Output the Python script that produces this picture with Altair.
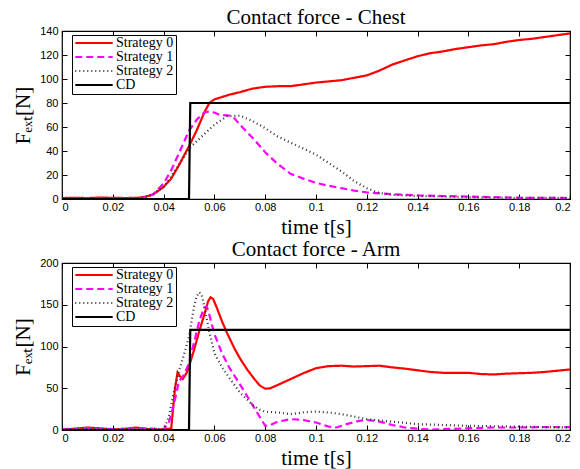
import altair as alt
import pandas as pd

series_names = ["Strategy 0", "Strategy 1", "Strategy 2", "CD"]
series_colors = ["#ff0000", "#ff00ff", "#333333", "#000000"]
series_dash = [[1, 0], [7, 4], [1, 3], [1, 0]]
series_width = [2.2, 2.2, 1.2, 2.2]

x_ticks = [0, 0.02, 0.04, 0.06, 0.08, 0.1, 0.12, 0.14, 0.16, 0.18, 0.2]
chest_y_ticks = [0, 20, 40, 60, 80, 100, 120, 140]
arm_y_ticks = [0, 50, 100, 150, 200]

# ---- Chest ----
chest_t0 = [0, 0.005, 0.01, 0.015, 0.02, 0.025, 0.03, 0.033, 0.036, 0.04, 0.043, 0.046, 0.05, 0.053,
            0.056, 0.058, 0.06, 0.063, 0.066, 0.07, 0.075, 0.08, 0.085, 0.09, 0.095, 0.1, 0.105, 0.11,
            0.115, 0.12, 0.125, 0.13, 0.135, 0.14, 0.145, 0.15, 0.155, 0.16, 0.165, 0.17, 0.175, 0.18,
            0.185, 0.19, 0.195, 0.2]
chest_s0 = [0.8, 1, 0.8, 1.2, 1, 0.8, 1, 2, 4, 10, 17, 28, 44, 57,
            72, 80, 83, 85, 87, 89, 92, 93.5, 94, 94, 95.5, 97, 98, 99,
            101, 103, 107, 112, 115.5, 119, 121.5, 123, 125, 126.5, 128, 129, 131, 132.5,
            133.5, 135, 136.5, 138]

chest_t1 = [0, 0.01, 0.02, 0.03, 0.033, 0.036, 0.04, 0.043, 0.046, 0.05, 0.053, 0.056, 0.058, 0.06,
            0.062, 0.066, 0.068, 0.07, 0.075, 0.08, 0.085, 0.09, 0.095, 0.1, 0.105, 0.11, 0.115, 0.12,
            0.13, 0.14, 0.15, 0.16, 0.17, 0.18, 0.19, 0.2]
chest_s1 = [0, 0.3, 0.3, 0.5, 1.5, 4, 13, 24, 38, 57, 66, 72, 73, 72,
            70, 69.5, 67, 62, 51, 39, 29, 21, 17, 13.5, 11, 9, 7, 5.5,
            4, 3, 2.5, 2, 1.5, 1, 1, 0.8]

chest_t2 = [0, 0.01, 0.02, 0.03, 0.035, 0.04, 0.045, 0.05, 0.055, 0.06, 0.065, 0.07, 0.075, 0.08,
            0.085, 0.09, 0.095, 0.1, 0.105, 0.11, 0.115, 0.12, 0.125, 0.13, 0.14, 0.15, 0.16, 0.17,
            0.18, 0.19, 0.2]
chest_s2 = [0.5, 0.5, 0.5, 0.5, 3, 10, 25, 42, 52, 62, 69, 69.5, 65, 59,
            52, 47, 42, 37, 30, 23, 15, 9, 5, 3.5, 2.5, 2, 1.5, 1.2,
            1, 1, 1]

chest_tcd = [0, 0.05, 0.0505, 0.2]
chest_cd = [0, 0, 80, 80]

# ---- Arm ----
arm_t0 = [0, 0.005, 0.01, 0.015, 0.02, 0.025, 0.029, 0.033, 0.037, 0.041, 0.043, 0.0445, 0.0455,
          0.0465, 0.0475, 0.049, 0.05, 0.052, 0.054, 0.056, 0.0575, 0.0585, 0.0595, 0.061, 0.063,
          0.065, 0.068, 0.07, 0.073, 0.076, 0.078, 0.08, 0.082, 0.085, 0.09, 0.095, 0.1, 0.105,
          0.11, 0.115, 0.12, 0.125, 0.13, 0.135, 0.14, 0.145, 0.15, 0.155, 0.16, 0.165, 0.17,
          0.175, 0.18, 0.185, 0.19, 0.195, 0.2]
arm_s0 = [0.5, 1.5, 3, 2, 0.5, 1.5, 3, 1.5, 0.5, 1, 2, 50, 69,
          64, 61, 68, 76, 96, 118, 138, 154, 159, 157, 146, 130,
          116, 97, 86, 72, 60, 53, 49.5, 50, 54, 61, 68, 74, 76.5,
          77, 76, 76.5, 77, 75, 73.5, 71.5, 69.5, 68.5, 68.5, 68.5, 67, 66.5,
          67.5, 68, 68.5, 69.5, 71, 72.5]

arm_t1 = [0, 0.01, 0.02, 0.03, 0.04, 0.042, 0.044, 0.046, 0.048, 0.05, 0.052, 0.054, 0.056, 0.057,
          0.058, 0.06, 0.063, 0.066, 0.07, 0.075, 0.078, 0.08, 0.082, 0.085, 0.09, 0.095, 0.1,
          0.105, 0.108, 0.112, 0.117, 0.12, 0.125, 0.13, 0.135, 0.14, 0.145, 0.15, 0.16, 0.17,
          0.18, 0.19, 0.2]
arm_s1 = [1, 2, 1, 2, 1, 8, 30, 58, 66, 80, 105, 130, 147, 148,
          138, 115, 92, 74, 55, 30, 15, 5, 6, 10, 13, 12, 9,
          4, 3, 7, 11, 12, 10, 6, 3, 1.5, 0.5, 1, 2, 3,
          3, 3.5, 3.5]

arm_t2 = [0, 0.02, 0.04, 0.042, 0.044, 0.046, 0.048, 0.05, 0.052, 0.053, 0.054, 0.055, 0.056, 0.058,
          0.06, 0.063, 0.066, 0.07, 0.075, 0.078, 0.08, 0.085, 0.09, 0.095, 0.1, 0.105, 0.11,
          0.115, 0.12, 0.13, 0.14, 0.15, 0.16, 0.17, 0.18, 0.19, 0.2]
arm_s2 = [1, 1, 1, 15, 45, 70, 90, 112, 148, 160, 165, 162, 148, 118,
          92, 75, 62, 45, 30, 24, 22, 21, 19, 21, 22, 21, 19,
          16, 13, 10, 7, 6, 5, 4.5, 4, 3.5, 3]

arm_tcd = [0, 0.05, 0.0505, 0.2]
arm_cd = [0, 0, 120, 120]


def frame(ts, vs):
    rows = []
    for name, t, v in zip(series_names, ts, vs):
        for i, (a, b) in enumerate(zip(t, v)):
            rows.append({"series": name, "t": a, "F": b, "i": i})
    return pd.DataFrame(rows)


chest_df = frame([chest_t0, chest_t1, chest_t2, chest_tcd], [chest_s0, chest_s1, chest_s2, chest_cd])
arm_df = frame([arm_t0, arm_t1, arm_t2, arm_tcd], [arm_s0, arm_s1, arm_s2, arm_cd])

SERIF = "Liberation Serif"
SANS = "Liberation Sans"
TICK = 5


def panel(df, title, ymax, yticks, h):
    xscale = alt.Scale(domain=[0, 0.2], nice=False, zero=False)
    yscale = alt.Scale(domain=[0, ymax], nice=False)
    legend = alt.Legend(
        title=None, orient="none", legendX=10, legendY=4,
        strokeColor="black", fillColor="white", padding=2,
        symbolType="stroke", symbolSize=1400, symbolStrokeWidth=2.2,
        labelFont=SERIF, labelFontSize=14, labelColor="black", rowPadding=0,
        clipHeight=12, labelOffset=2, cornerRadius=0,
    )
    main = alt.Chart(df).mark_line(clip=True).encode(
        x=alt.X("t:Q", scale=xscale, axis=alt.Axis(
            orient="bottom", values=x_ticks, format="~g", title="time t[s]",
            offset=-TICK, tickSize=TICK, labelPadding=2, domain=False, grid=False,
            tickColor="black", labelFont=SANS, labelFontSize=11, labelColor="black",
            titleFont=SERIF, titleFontSize=21, titleFontWeight="normal", titleColor="black",
            titlePadding=4)),
        y=alt.Y("F:Q", scale=yscale, axis=alt.Axis(
            orient="left", values=yticks, title="Fₑₓₜ[N]",
            offset=-TICK, tickSize=TICK, labelPadding=4, domain=False, grid=False,
            tickColor="black", labelFont=SANS, labelFontSize=11, labelColor="black",
            titleFont=SERIF, titleFontSize=21, titleFontWeight="normal", titleColor="black",
            titlePadding=6)),
        color=alt.Color("series:N", scale=alt.Scale(domain=series_names, range=series_colors),
                        legend=legend),
        strokeDash=alt.StrokeDash("series:N", scale=alt.Scale(domain=series_names, range=series_dash),
                                  legend=legend),
        strokeWidth=alt.StrokeWidth("series:N", scale=alt.Scale(domain=series_names, range=series_width),
                                    legend=None),
        order="i:Q",
    )
    mirror = alt.Chart(df).mark_line(strokeOpacity=0).encode(
        x=alt.X("t:Q", scale=xscale, axis=alt.Axis(
            orient="top", values=x_ticks, labels=False, title=None,
            offset=-TICK, tickSize=TICK, domain=False, grid=False, tickColor="black")),
        y=alt.Y("F:Q", scale=yscale, axis=alt.Axis(
            orient="right", values=yticks, labels=False, title=None,
            offset=-TICK, tickSize=TICK, domain=False, grid=False, tickColor="black")),
        detail="series:N",
    )
    return alt.layer(main, mirror).resolve_axis(x="independent", y="independent").properties(
        width=508, height=h,
        title=alt.TitleParams(title, font=SERIF, fontSize=21, fontWeight="normal",
                              color="black", offset=-3),
    )


chart = alt.vconcat(
    panel(chest_df, "Contact force - Chest", 140, chest_y_ticks, 168),
    panel(arm_df, "Contact force - Arm", 200, arm_y_ticks, 167),
    spacing=0,
).resolve_scale(color="independent", strokeDash="independent", strokeWidth="independent").properties(
    padding={"left": 12, "top": 6, "right": 5, "bottom": 2},
    background="white",
).configure_view(stroke="black", strokeWidth=1.2).configure_legend(
    labelFont=SERIF, labelFontSize=14, labelColor="black"
)

chart.save("out.html", embed_options={"renderer": "svg", "actions": False})
